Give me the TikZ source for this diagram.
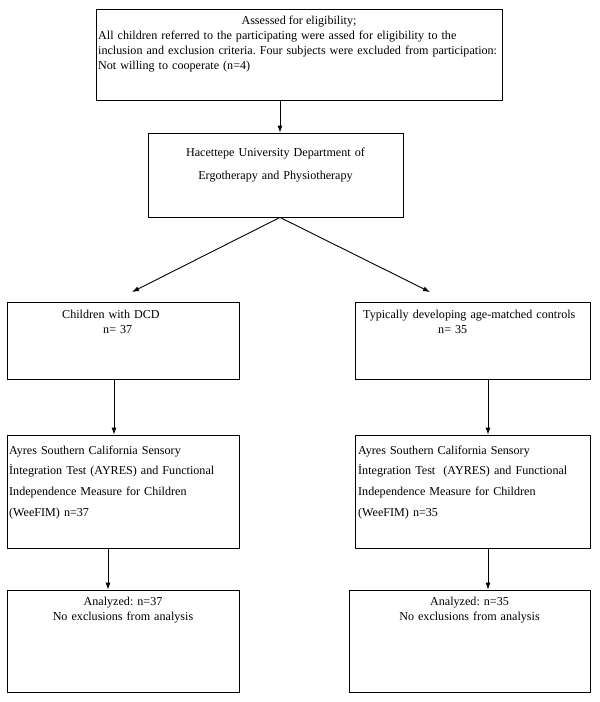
\documentclass[tikz,border=0pt]{standalone}
\usepackage{fontspec}
\setmainfont{Liberation Serif}
\usetikzlibrary{arrows.meta}
\frenchspacing

\begin{document}
\begin{tikzpicture}[x=1pt,y=-1pt]
\tikzset{box/.style = {shape=rectangle,draw,line width=0.8pt,inner sep=0pt}}
\tikzset{txt/.style = {inner sep=0pt,font=\fontsize{12.1}{15}\selectfont}}
\tikzset{edge/.style = {->,> = {Latex[length=7pt,width=5pt]},line width=0.9pt}}
\useasboundingbox (0,0) rectangle (600,702);
% boxes
\node[box,minimum width=406pt,minimum height=91pt] (elig) at (299,54.5) {};
\node[box,minimum width=255pt,minimum height=84pt] (dept) at (275.5,175) {};
\node[box,minimum width=232pt,minimum height=77pt] (dcd) at (123,340.5) {};
\node[box,minimum width=235pt,minimum height=77pt] (ctrl) at (472.5,340.5) {};
\node[box,minimum width=232pt,minimum height=113pt] (testL) at (123,491.5) {};
\node[box,minimum width=235pt,minimum height=113pt] (testR) at (472.5,491.5) {};
\node[box,minimum width=232pt,minimum height=102pt] (anaL) at (123,641) {};
\node[box,minimum width=241pt,minimum height=102pt] (anaR) at (469.5,641) {};
% texts
\node[txt,anchor=base] (eligHead) at (299,24) {Assessed for eligibility;};
\node[txt,anchor=base west,text width=420pt,align=left] (eligBody) at (98,39)
  {All children referred to the participating were assed for eligibility to the\\
   inclusion and exclusion criteria. Four subjects were excluded from participation:\\
   Not willing to cooperate (n=4)};
\node[txt,anchor=base,text width=250pt,align=center,
  font=\fontsize{12.1}{23}\selectfont] (deptText) at (275.5,156)
  {Hacettepe University Department of\\ Ergotherapy and Physiotherapy};
\node[txt,anchor=base west,text width=170pt,align=left] (dcdText) at (62,318)
  {Children with DCD\\ \hspace*{41pt}n= 37};
\node[txt,anchor=base west,text width=230pt,align=left] (ctrlText) at (363,318)
  {Typically developing age-matched controls\\ \hspace*{75pt}n= 35};
\node[txt,anchor=base west,text width=228pt,align=left,
  font=\fontsize{12.1}{20.7}\selectfont] (testLText) at (9,454)
  {Ayres Southern California Sensory\\ İntegration Test (AYRES) and Functional\\
   Independence Measure for Children\\ (WeeFIM) n=37};
\node[txt,anchor=base west,text width=228pt,align=left,
  font=\fontsize{12.1}{20.7}\selectfont] (testRText) at (358,454)
  {Ayres Southern California Sensory\\ İntegration Test\ \ (AYRES) and Functional\\
   Independence Measure for Children\\ (WeeFIM) n=35};
\node[txt,anchor=base,text width=228pt,align=center] (anaLText) at (123,605)
  {Analyzed: n=37\\ No exclusions from analysis};
\node[txt,anchor=base,text width=228pt,align=center] (anaRText) at (469.5,605)
  {Analyzed: n=35\\ No exclusions from analysis};
% arrow ends
\coordinate (tipL) at (132,292);
\coordinate (tipR) at (430,292);
%edges
\draw[edge] ([xshift=-19pt]elig.south) to ([xshift=-19pt]elig.south |- dept.north);
\draw[edge] ([xshift=4.5pt]dept.south) to (tipL);
\draw[edge] ([xshift=4.5pt]dept.south) to (tipR);
\draw[edge] ([xshift=-9pt]dcd.south) to ([xshift=-9pt]dcd.south |- testL.north);
\draw[edge] ([xshift=15.5pt]ctrl.south) to ([xshift=15.5pt]ctrl.south |- testR.north);
\draw[edge] ([xshift=-15pt]testL.south) to ([xshift=-15pt]testL.south |- anaL.north);
\draw[edge] ([xshift=15.5pt]testR.south) to ([xshift=15.5pt]testR.south |- anaR.north);
\end{tikzpicture}
\end{document}
